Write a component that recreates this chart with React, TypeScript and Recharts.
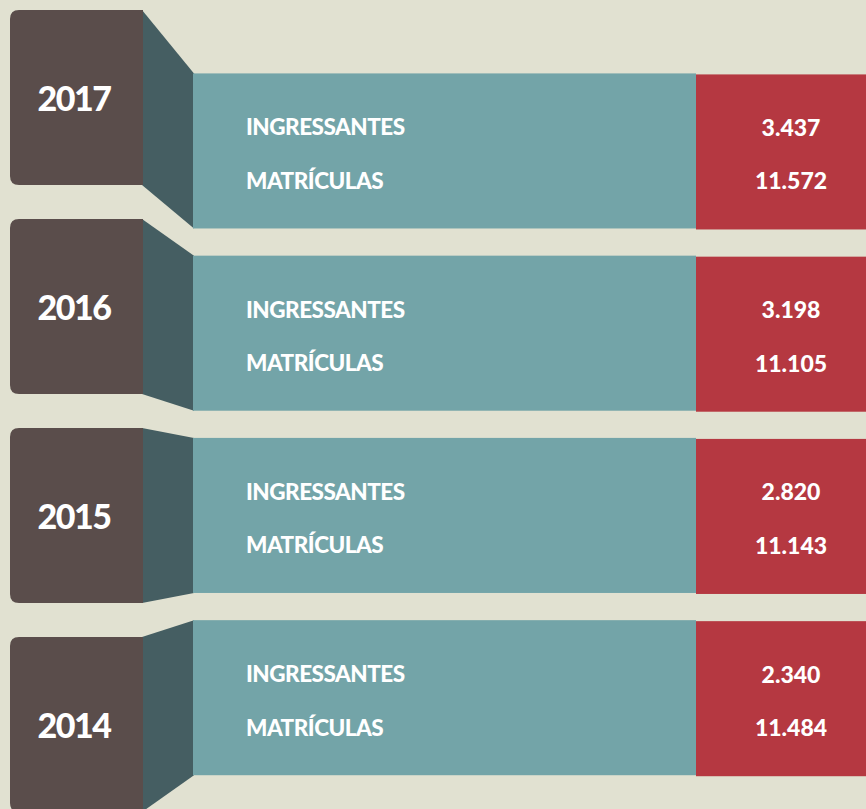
import { Bar, BarChart, XAxis, YAxis } from "recharts";

const years = ["2017", "2016", "2015", "2014"];
const ingressantes = [3437, 3198, 2820, 2340];
const matriculas = [11572, 11105, 11143, 11484];

const rows = years.map((year, i) => ({
  year,
  ingressantes: ingressantes[i],
  matriculas: matriculas[i],
}));

const BG = "#e1e1d1";
const BROWN = "#5a4d4b";
const SIDE = "#455e62";
const TEAL = "#73a4a8";
const RED = "#b53841";
const FONT = "Lato, 'Open Sans', sans-serif";

// the teal bands sit "further back": shrink toward a vanishing row
const VANISH_Y = 522;
const DEPTH = 0.872;
const BAND_SCALE = 0.886;

const fmt = (n: number) => String(n).replace(/\B(?=(\d{3})+(?!\d))/g, ".");

function Row(props: any) {
  const { x, y, width, height, payload } = props;
  const left = x + 10;
  const boxRight = x + 143;
  const bandLeft = x + 193;
  const redLeft = x + 696;
  const right = x + width;
  const top = y;
  const bottom = y + height;
  const cy = y + height / 2;

  const tc = VANISH_Y + DEPTH * (cy - VANISH_Y);
  const th = (height * BAND_SCALE) / 2;
  const tTop = tc - th;
  const tBot = tc + th;
  const tH = tBot - tTop;
  const r = 9;

  const boxPath = `M${left + r},${top} L${boxRight},${top} L${boxRight},${bottom} L${left + r},${bottom} Q${left},${bottom} ${left},${bottom - r} L${left},${top + r} Q${left},${top} ${left + r},${top} Z`;

  const y1 = tTop + 0.345 * tH;
  const y2 = tTop + 0.69 * tH;
  const valX = redLeft + 95;
  const label = { fill: "#fff", fontFamily: FONT, fontWeight: 900, fontSize: 22.5, letterSpacing: -0.5 };
  const value = { fill: "#fff", fontFamily: FONT, fontWeight: 900, fontSize: 23 };

  return (
    <g>
      <polygon
        points={`${boxRight - 1},${top} ${bandLeft + 1},${tTop} ${bandLeft + 1},${tBot} ${boxRight - 1},${bottom}`}
        fill={SIDE}
      />
      <path d={boxPath} fill={BROWN} />
      <rect x={bandLeft} y={tTop} width={redLeft - bandLeft} height={tH} fill={TEAL} />
      <rect x={redLeft} y={tTop + 1} width={right - redLeft} height={tH} fill={RED} />
      <text
        x={left + 64}
        y={cy}
        textAnchor="middle"
        dominantBaseline="central"
        fill="#fff"
        fontFamily={FONT}
        fontWeight={900}
        fontSize={34}
        letterSpacing={-1.5}
      >
        {payload.year}
      </text>
      <text x={bandLeft + 53} y={y1} dominantBaseline="central" {...label}>
        INGRESSANTES
      </text>
      <text x={bandLeft + 53} y={y2} dominantBaseline="central" {...label}>
        MATRÍCULAS
      </text>
      <text x={valX} y={y1} textAnchor="middle" dominantBaseline="central" {...value}>
        {fmt(payload.ingressantes)}
      </text>
      <text x={valX} y={y2} textAnchor="middle" dominantBaseline="central" {...value}>
        {fmt(payload.matriculas)}
      </text>
    </g>
  );
}

export default function App() {
  return (
    <div
      style={{
        position: "absolute",
        top: 0,
        left: 0,
        width: 866,
        height: 809,
        overflow: "hidden",
        background: BG,
      }}
    >
      <div style={{ marginTop: -7 }}>
        <BarChart
          width={866}
          height={836}
          data={rows}
          layout="vertical"
          margin={{ top: 0, right: 0, bottom: 0, left: 0 }}
        >
          <XAxis type="number" domain={[0, 1]} hide />
          <YAxis type="category" dataKey="year" hide />
          <Bar dataKey={() => 1} barSize={175} shape={Row} isAnimationActive={false} />
        </BarChart>
      </div>
    </div>
  );
}
